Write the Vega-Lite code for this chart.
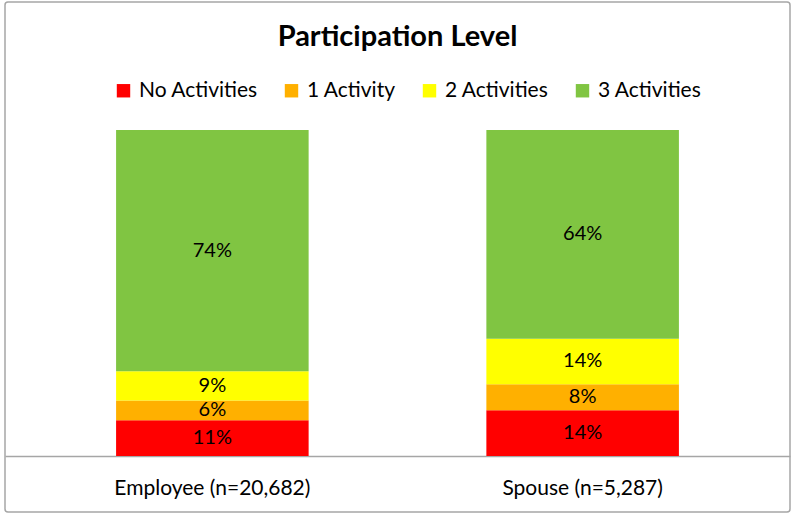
{
  "$schema": "https://vega.github.io/schema/vega-lite/v6.json",
  "width": 785,
  "height": 510,
  "autosize": "none",
  "padding": {"left": 5, "top": 2, "right": 10, "bottom": 6},
  "background": "white",
  "config": {
    "font": "Lato",
    "view": {"stroke": "#a6a6a6", "strokeWidth": 1.5, "cornerRadius": 3},
    "legend": {
      "orient": "none",
      "legendX": 108,
      "legendY": 78,
      "direction": "horizontal",
      "symbolType": "square",
      "symbolSize": 180,
      "symbolStrokeWidth": 0,
      "labelFontSize": 21,
      "labelFont": "Lato",
      "labelColor": "black",
      "labelOffset": 5,
      "columnPadding": 23,
      "padding": 0,
      "title": null
    }
  },
  "title": {
    "text": "Participation Level",
    "font": "Lato",
    "fontSize": 29,
    "fontWeight": "bold",
    "color": "black",
    "anchor": "middle",
    "frame": "group",
    "baseline": "alphabetic",
    "offset": -73
  },
  "data": {
    "values": [
      {"group": "Employee (n=20,682)", "level": "No Activities", "order": 1, "pct": 11},
      {"group": "Employee (n=20,682)", "level": "1 Activity", "order": 2, "pct": 6},
      {"group": "Employee (n=20,682)", "level": "2 Activities", "order": 3, "pct": 9},
      {"group": "Employee (n=20,682)", "level": "3 Activities", "order": 4, "pct": 74},
      {"group": "Spouse (n=5,287)", "level": "No Activities", "order": 1, "pct": 14},
      {"group": "Spouse (n=5,287)", "level": "1 Activity", "order": 2, "pct": 8},
      {"group": "Spouse (n=5,287)", "level": "2 Activities", "order": 3, "pct": 14},
      {"group": "Spouse (n=5,287)", "level": "3 Activities", "order": 4, "pct": 64}
    ]
  },
  "transform": [
    {"stack": "pct", "groupby": ["group"], "sort": [{"field": "order"}], "as": ["y0", "y1"]},
    {"calculate": "(datum.y0 + datum.y1) / 2", "as": "mid"},
    {"calculate": "datum.pct + '%'", "as": "label"}
  ],
  "encoding": {
    "x": {
      "field": "group",
      "type": "nominal",
      "sort": null,
      "scale": {"paddingInner": 0.48, "paddingOuter": 0.3},
      "axis": {
        "title": null,
        "labelAngle": 0,
        "labelFontSize": 21,
        "labelFont": "Lato",
        "labelColor": "black",
        "labelPadding": 21,
        "labelLimit": 0,
        "ticks": false,
        "domainColor": "#a6a6a6",
        "domainWidth": 1.5,
        "offset": -56
      }
    }
  },
  "layer": [
    {
      "mark": {"type": "bar"},
      "encoding": {
        "y": {"field": "y0", "type": "quantitative", "scale": {"domain": [-17.18, 139.26], "nice": false, "zero": false}, "axis": null},
        "y2": {"field": "y1"},
        "color": {
          "field": "level",
          "type": "nominal",
          "scale": {
            "domain": ["No Activities", "1 Activity", "2 Activities", "3 Activities"],
            "range": ["#FF0000", "#FFB000", "#FFFF00", "#80C542"]
          }
        }
      }
    },
    {
      "mark": {"type": "text", "fontSize": 20, "font": "Lato", "color": "black", "baseline": "middle"},
      "encoding": {
        "y": {"field": "mid", "type": "quantitative"},
        "text": {"field": "label"}
      }
    }
  ]
}
